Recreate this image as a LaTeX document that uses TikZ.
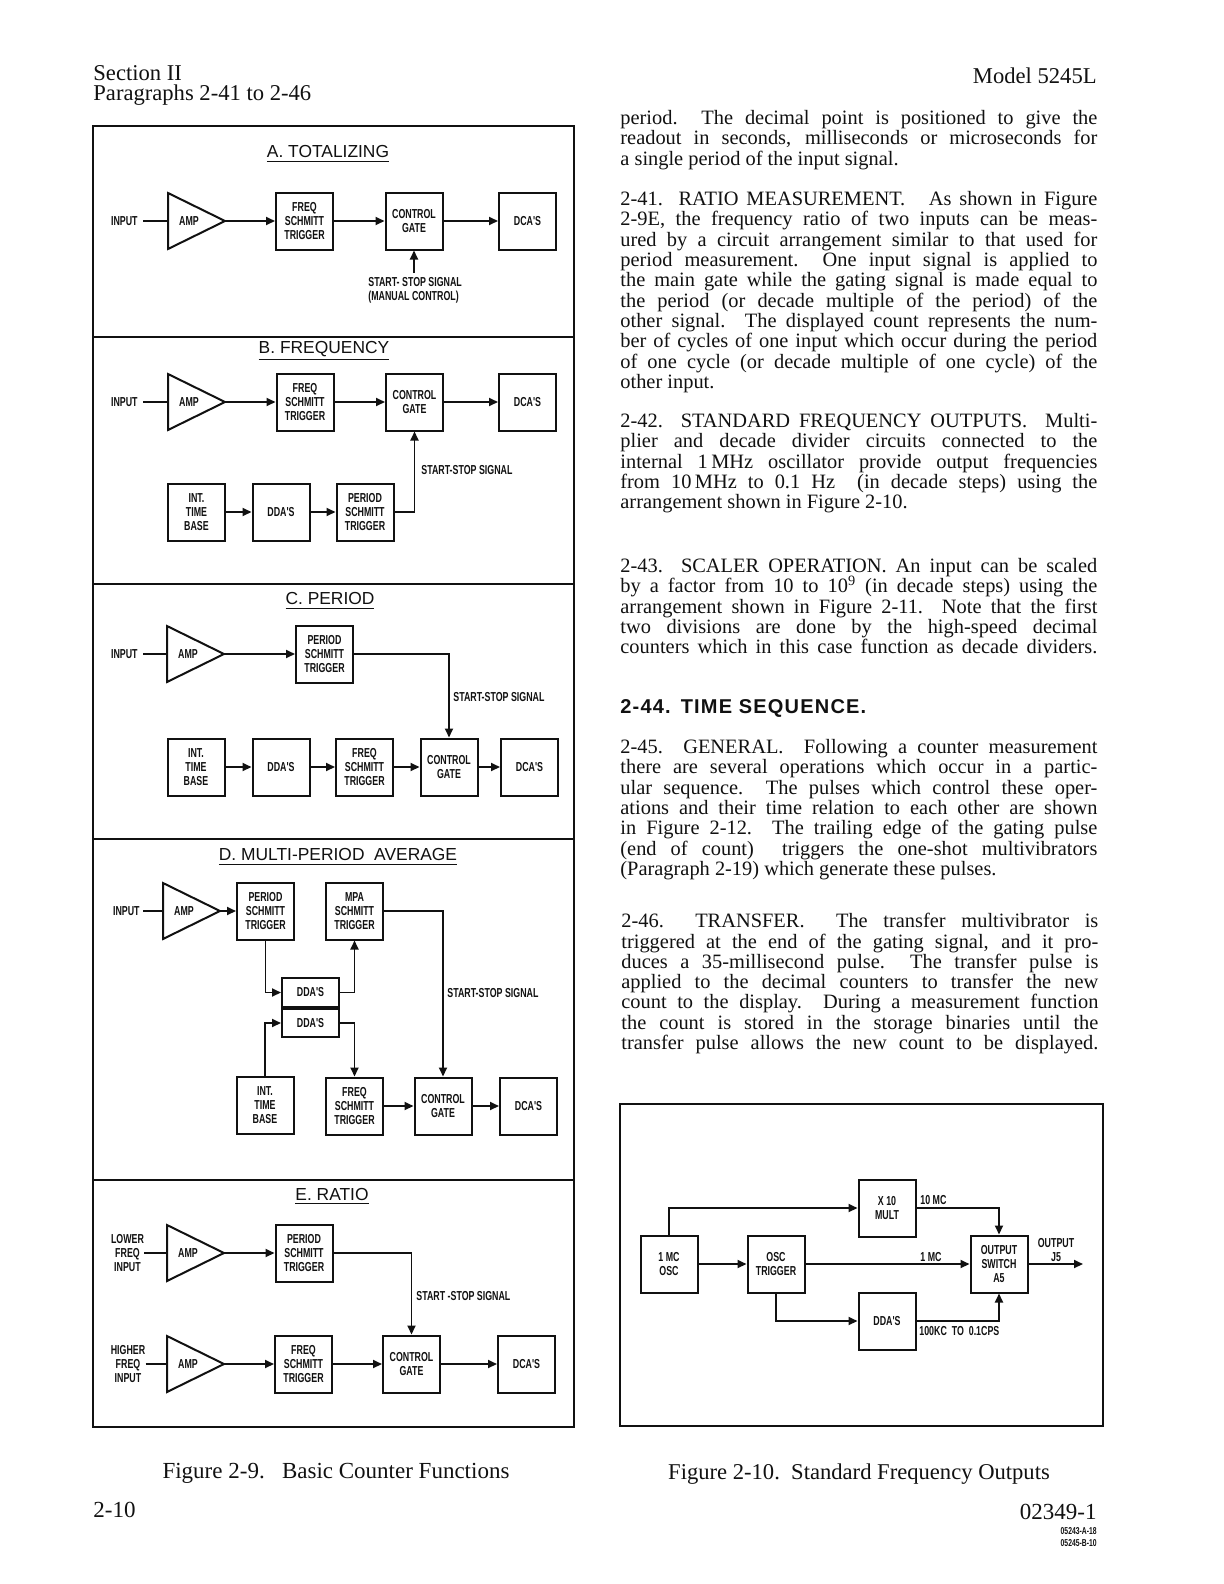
\documentclass[tikz,border=0pt]{standalone}
\usepackage{fontspec}
\setmainfont{Liberation Serif}
\newfontfamily\blkfont[FakeStretch=0.68]{Liberation Sans}
\newfontfamily\ttlfont{Liberation Sans}
\newfontfamily\hdfont[LetterSpace=6]{Liberation Sans}
\usetikzlibrary{positioning,arrows.meta,calc}
\definecolor{pageInk}{RGB}{17,17,17}
\setlength{\parindent}{0pt}
\setlength{\lineskiplimit}{-20pt}
\setlength{\normallineskiplimit}{-20pt}

\newcommand{\jl}[1]{\lineskiplimit=-20pt\relax
  {\spaceskip=0pt\xspaceskip=0pt\makebox[\hsize][s]{\strut#1}}\par}
\newcommand{\ampblk}[3]{%
  \draw[draw=pageInk, line width=1pt, line join=miter] (#2,#3-28) -- (#2+57,#3) -- (#2,#3+28) -- cycle;
  \node[lbl] (#1) at (#2+21,#3) {AMP};
  \coordinate (#1-in) at (#2,#3);
  \coordinate (#1-out) at (#2+57,#3);}

\tikzset{
  blk/.style={draw=pageInk, line width=1pt, minimum width=28.5pt, minimum height=28.5pt,
              inner sep=0pt, align=center, text=pageInk,
              font=\blkfont\bfseries\fontsize{6.5}{7.1}\selectfont},
  lbl/.style={inner sep=0pt, align=center, text=pageInk,
              font=\blkfont\bfseries\fontsize{6.5}{7.1}\selectfont},
  wire/.style={draw=pageInk, line width=0.9pt},
  sig/.style={wire, -{Triangle[length=4.5pt,width=4pt]}},
  ttl/.style={inner sep=0pt, text=pageInk, font=\ttlfont\fontsize{8.7}{10}\selectfont},
  bodytxt/.style={anchor=north west, inner sep=0pt, text width=238.5pt, align=justify,
                  text=pageInk, font=\fontsize{10.2}{10.15}\selectfont},
  pagetxt/.style={inner sep=0pt, text=pageInk, font=\fontsize{11.3}{13}\selectfont},
}

\begin{document}
\begin{tikzpicture}[x=0.5pt,y=-0.5pt]
  \fill[white] (0,0) rectangle (1224,1584);
  \useasboundingbox (0,0) rectangle (1224,1584);

  \node[pagetxt, anchor=north west, align=left, font=\fontsize{11.3}{10}\selectfont]
    (secHd) at (93,65) {Section II\\Paragraphs 2-41 to 2-46};
  \node[pagetxt, anchor=base east] (modelHd) at (1097,84) {Model 5245L};

  \draw[draw=pageInk, line width=1.1pt] (93,126) rectangle (574,1427);
  \foreach \yy in {337,584,839,1180}
    \draw[draw=pageInk, line width=1.1pt] (93,\yy) -- (574,\yy);

  \node[ttl] (ttlA) at (328,154) {\underline{A. TOTALIZING}};
  \ampblk{ampA}{168}{221}
  \node[lbl, anchor=east] (inA) at (138,221) {INPUT};
  \node[blk] (freqA) at (304.5,221) {FREQ\\SCHMITT\\TRIGGER};
  \node[blk] (gateA) at (414,221) {CONTROL\\GATE};
  \node[blk] (dcaA) at (527.5,221) {DCA'S};
  \node[lbl, align=left, anchor=north west] (ssA) at (368,277) {START- STOP SIGNAL\\(MANUAL CONTROL)};
  \draw[wire] ([xshift=2.5pt]inA.east) -- (ampA-in);
  \draw[sig] (ampA-out) -- (freqA.west);
  \draw[sig] (freqA) -- (gateA);
  \draw[sig] (gateA) -- (dcaA);
  \draw[sig] ([yshift=2pt]ssA.north -| gateA.south) -- (gateA.south);

  \node[ttl] (ttlB) at (324,351) {\underline{B. FREQUENCY}};
  \ampblk{ampB}{168}{402}
  \node[lbl, anchor=east] (inB) at (138,402) {INPUT};
  \node[blk] (freqB) at (305,402) {FREQ\\SCHMITT\\TRIGGER};
  \node[blk] (gateB) at (414.5,402) {CONTROL\\GATE};
  \node[blk] (dcaB) at (527.5,402) {DCA'S};
  \node[blk] (intB) at (196.5,512) {INT.\\TIME\\BASE};
  \node[blk] (ddaB) at (281,512) {DDA'S};
  \node[blk] (perB) at (365,512) {PERIOD\\SCHMITT\\TRIGGER};
  \node[lbl, anchor=west] (ssB) at (421,470) {START-STOP SIGNAL};
  \draw[wire] ([xshift=2.5pt]inB.east) -- (ampB-in);
  \draw[sig] (ampB-out) -- (freqB.west);
  \draw[sig] (freqB) -- (gateB);
  \draw[sig] (gateB) -- (dcaB);
  \draw[sig] (intB) -- (ddaB);
  \draw[sig] (ddaB) -- (perB);
  \draw[sig] (perB.east) -| (gateB.south);

  \node[ttl] (ttlC) at (330,601) {\underline{C. PERIOD}};
  \ampblk{ampC}{167}{654}
  \node[lbl, anchor=east] (inC) at (138,654) {INPUT};
  \node[blk] (perC) at (324.5,654) {PERIOD\\SCHMITT\\TRIGGER};
  \node[blk] (intC) at (196,767) {INT.\\TIME\\BASE};
  \node[blk] (ddaC) at (281,767) {DDA'S};
  \node[blk] (freqC) at (364.5,767) {FREQ\\SCHMITT\\TRIGGER};
  \node[blk] (gateC) at (449,767) {CONTROL\\GATE};
  \node[blk] (dcaC) at (529.5,767) {DCA'S};
  \node[lbl, anchor=west] (ssC) at (453,697) {START-STOP SIGNAL};
  \draw[wire] ([xshift=2.5pt]inC.east) -- (ampC-in);
  \draw[sig] (ampC-out) -- (perC.west);
  \draw[sig] (perC.east) -| (gateC.north);
  \draw[sig] (intC) -- (ddaC);
  \draw[sig] (ddaC) -- (freqC);
  \draw[sig] (freqC) -- (gateC);
  \draw[sig] (gateC) -- (dcaC);

  \node[ttl] (ttlD) at (338,857) {\underline{D. MULTI-PERIOD\ \ AVERAGE}};
  \ampblk{ampD}{163}{911}
  \node[lbl, anchor=east] (inD) at (140,911) {INPUT};
  \node[blk] (perD) at (265.5,911) {PERIOD\\SCHMITT\\TRIGGER};
  \node[blk] (mpaD) at (354.5,911) {MPA\\SCHMITT\\TRIGGER};
  \node[blk, minimum height=14.25pt] (ddaD1) at (310.5,992.5) {DDA'S};
  \node[blk, minimum height=14.25pt, below=0pt of ddaD1] (ddaD2) {DDA'S};
  \node[blk] (intD) at (265,1105) {INT.\\TIME\\BASE};
  \node[blk] (freqD) at (354.5,1106) {FREQ\\SCHMITT\\TRIGGER};
  \node[blk] (gateD) at (443,1106) {CONTROL\\GATE};
  \node[blk] (dcaD) at (528.5,1106) {DCA'S};
  \node[lbl, anchor=west] (ssD) at (447,993) {START-STOP SIGNAL};
  \draw[wire] ([xshift=1.5pt]inD.east) -- (ampD-in);
  \draw[sig] (ampD-out) -- (perD.west);
  \draw[sig] (perD.south) |- (ddaD1.west);
  \draw[sig] (ddaD1.east) -| (mpaD.south);
  \draw[sig] (intD.north) |- (ddaD2.west);
  \draw[sig] (ddaD2.east) -| (freqD.north);
  \draw[sig] (mpaD.east) -| (gateD.north);
  \draw[sig] (freqD) -- (gateD);
  \draw[sig] (gateD) -- (dcaD);

  \node[ttl] (ttlE) at (332,1196) {\underline{E. RATIO}};
  \ampblk{ampE1}{167}{1253}
  \ampblk{ampE2}{167}{1364}
  \node[lbl] (inE1) at (127.5,1253) {LOWER\\FREQ\\INPUT};
  \node[lbl] (inE2) at (128,1364) {HIGHER\\FREQ\\INPUT};
  \node[blk] (perE) at (304,1253) {PERIOD\\SCHMITT\\TRIGGER};
  \node[blk] (freqE) at (303.5,1364) {FREQ\\SCHMITT\\TRIGGER};
  \node[blk] (gateE) at (411.5,1364) {CONTROL\\GATE};
  \node[blk] (dcaE) at (526.5,1364) {DCA'S};
  \node[lbl, anchor=west] (ssE) at (416,1296) {START -STOP SIGNAL};
  \draw[wire] (inE1.east) -- (ampE1-in);
  \draw[wire] (inE2.east) -- (ampE2-in);
  \draw[sig] (ampE1-out) -- (perE.west);
  \draw[sig] (ampE2-out) -- (freqE.west);
  \draw[sig] (perE.east) -| (gateE.north);
  \draw[sig] (freqE) -- (gateE);
  \draw[sig] (gateE) -- (dcaE);

  \draw[draw=pageInk, line width=1.1pt] (620,1104) rectangle (1103,1426);
  \node[blk] (oscF) at (669,1264) {1 MC\\OSC};
  \node[blk] (trigF) at (776,1264) {OSC\\TRIGGER};
  \node[blk] (multF) at (887,1208) {X 10\\MULT};
  \node[blk] (ddaF) at (887,1321) {DDA'S};
  \node[blk] (swF) at (999,1264) {OUTPUT\\SWITCH\\A5};
  \coordinate (outF) at (1083,1264);
  \node[lbl, anchor=west] (tenF) at (920,1200) {10 MC};
  \node[lbl, anchor=west] (oneF) at (920,1257) {1 MC};
  \node[lbl, anchor=west] (lowF) at (919,1331) {100KC\ \ TO\ \ 0.1CPS};
  \node[lbl] (outLbl) at (1056,1250) {OUTPUT\\J5};
  \draw[sig] (oscF.north) |- (multF.west);
  \draw[sig] (multF.east) -| (swF.north);
  \draw[sig] (oscF) -- (trigF);
  \draw[sig] (trigF) -- (swF);
  \draw[sig] (trigF.south) |- (ddaF.west);
  \draw[sig] (ddaF.east) -| (swF.south);
  \draw[sig] (swF.east) -- (outF);

  \node[bodytxt] (p40) at (620,110) {%
    \jl{period.\ \ The decimal point is positioned to give the}
    \jl{readout in seconds, milliseconds or microseconds for}
    \strut a single period of the input signal.};
  \node[bodytxt] (p41) at (620,191) {%
    \jl{2-41.\ \ RATIO MEASUREMENT.\ \ \ As shown in Figure}
    \jl{2-9E,\ the frequency ratio of two inputs can be meas-}
    \jl{ured by a circuit arrangement similar to that used for}
    \jl{period measurement.\ \ One input signal is applied to}
    \jl{the main gate while the gating signal is made equal to}
    \jl{the period (or decade multiple of the period) of the}
    \jl{other signal. The displayed count represents the num-}
    \jl{ber of cycles of one input which occur during the period}
    \jl{of one cycle (or decade multiple of one cycle) of the}
    \strut other input.};
  \node[bodytxt] (p42) at (620,413) {%
    \jl{2-42.\ \ STANDARD FREQUENCY OUTPUTS.\ \ Multi-}
    \jl{plier and decade divider circuits connected to the}
    \jl{internal 1\,MHz oscillator provide output frequencies}
    \jl{from 10\,MHz to 0.1 Hz\ \ (in decade steps) using the}
    \strut arrangement shown in Figure 2-10.};
  \node[bodytxt] (p43) at (620,558) {%
    \jl{2-43.\ \ SCALER OPERATION. An input can be scaled}
    \jl{by a factor from 10 to 10\textsuperscript{9} (in decade steps) using the}
    \jl{arrangement shown in Figure 2-11. Note that the first}
    \jl{two divisions are done by the high-speed decimal}
    \jl{counters which in this case function as decade dividers.}};
  \node[anchor=base west, inner sep=0pt, text=pageInk, font=\hdfont\bfseries\fontsize{10}{12}\selectfont]
    (h44) at (620,713) {2-44.\hspace{5pt}TIME SEQUENCE.};
  \node[bodytxt] (p45) at (620,739) {%
    \jl{2-45.\ \ GENERAL.\ \ Following a counter measurement}
    \jl{there are several operations which occur in a partic-}
    \jl{ular sequence.\ \ The pulses which control these oper-}
    \jl{ations and their time relation to each other are shown}
    \jl{in Figure 2-12.\ \ The trailing edge of the gating pulse}
    \jl{(end of count)\ \ triggers the one-shot multivibrators}
    \strut (Paragraph 2-19) which generate these pulses.};
  \node[bodytxt] (p46) at (621,913) {%
    \jl{2-46.\ \ TRANSFER.\ \ The transfer multivibrator is}
    \jl{triggered at the end of the gating signal, and it pro-}
    \jl{duces a 35-millisecond pulse.\ \ The transfer pulse is}
    \jl{applied to the decimal counters to transfer the new}
    \jl{count to the display.\ \ During a measurement function}
    \jl{the count is stored in the storage binaries until the}
    \jl{transfer pulse allows the new count to be displayed.}};

  \node[pagetxt, font=\fontsize{11.5}{13}\selectfont] (capA) at (336,1473) {Figure 2-9.\ \ \ Basic Counter Functions};
  \node[pagetxt, font=\fontsize{11.3}{13}\selectfont] (capB) at (859,1474) {Figure 2-10.\ \ Standard Frequency Outputs};
  \node[pagetxt, anchor=west, font=\fontsize{11.5}{13}\selectfont] (pgNo) at (93,1510) {2-10};
  \node[pagetxt, anchor=east, font=\fontsize{11.5}{13}\selectfont] (docNo) at (1097,1512) {02349-1};
  \node[lbl, anchor=east, font=\blkfont\bfseries\fontsize{5}{6}\selectfont] (codeA) at (1097,1531) {05243-A-18};
  \node[lbl, anchor=east, font=\blkfont\bfseries\fontsize{5}{6}\selectfont] (codeB) at (1097,1543) {05245-B-10};
\end{tikzpicture}
\end{document}
